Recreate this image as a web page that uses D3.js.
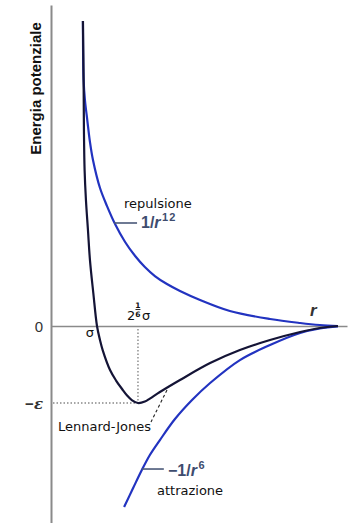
<!DOCTYPE html>
<html><head><meta charset="utf-8">
<script src="https://cdn.jsdelivr.net/npm/d3@7"></script>
<style>body{margin:0;background:#fff}svg{display:block}</style>
</head><body>
<svg id="c" width="360" height="523"></svg>
<script>
// r in units of sigma, E in units of epsilon
const ljR = [0.958,0.960,0.961,0.963,0.967,0.973,0.979,0.989,1.000,1.009,1.017,1.039,1.057,1.075,1.090,1.105,1.1225,1.143,1.158,1.188,1.248,1.338,1.427,1.517,1.607,1.666,1.720];
const ljE = [3.961,3.195,2.545,2.026,1.636,1.247,0.857,0.429,0,-0.182,-0.312,-0.571,-0.708,-0.818,-0.903,-0.965,-1.0,-0.981,-0.942,-0.857,-0.701,-0.481,-0.312,-0.182,-0.078,-0.026,0];
const repR = [0.958,0.960,0.964,0.971,0.979,0.988,1.009,1.030,1.054,1.084,1.114,1.143,1.173,1.209,1.248,1.308,1.397,1.517,1.607,1.666,1.720];
const repE = [3.961,3.195,2.935,2.675,2.390,2.156,1.792,1.558,1.325,1.091,0.909,0.766,0.649,0.545,0.455,0.338,0.195,0.091,0.039,0.013,0];
const attR = [1.081,1.108,1.134,1.158,1.188,1.233,1.284,1.338,1.427,1.517,1.607,1.666,1.720];
const attE = [-2.351,-2.104,-1.870,-1.675,-1.481,-1.208,-0.961,-0.740,-0.442,-0.247,-0.091,-0.032,-0.006];
const rDomain = [0.8626, 1.747];
const eDomain = [-2.558, 4.169];
const yTickValues = [0, -1];
const yTickLabels = ["0", "−ε"];
const rMin = Math.pow(2, 1/6);

const svg = d3.select("#c");
const x = d3.scaleLinear().domain(rDomain).range([51, 347]);
const y = d3.scaleLinear().domain(eDomain).range([523, 5]);

// axes
const yAx = svg.append("g").attr("transform", `translate(${x(rDomain[0])},0)`)
  .call(d3.axisLeft(y).tickValues(yTickValues).tickSize(0).tickPadding(8)
    .tickFormat((d,i) => yTickLabels[i]));
yAx.select(".domain").attr("stroke", "#8a8a8a").attr("stroke-width", 2);
yAx.selectAll("text").attr("font-family", "Liberation Sans, Arial, sans-serif")
  .attr("font-size", 15).attr("fill", "#333").attr("dy", "0.36em");
yAx.selectAll(".tick").filter(d => d === -1).select("text").text(null)
  .call(t => { t.append("tspan").text("−").attr("font-weight","bold");
               t.append("tspan").text("ε").attr("font-family","DejaVu Serif, serif")
                 .attr("font-style","italic").attr("font-weight","bold"); });

const xAx = svg.append("g").attr("transform", `translate(0,${y(0)})`)
  .call(d3.axisBottom(x).tickValues([]).tickSizeOuter(0));
xAx.select(".domain").attr("stroke", "#8a8a8a").attr("stroke-width", 1.6);

// dotted guides
svg.append("path")
  .attr("d", `M${x(rDomain[0])+2},${y(-1)}H${x(rMin)}V${y(0)+2}`)
  .attr("fill","none").attr("stroke","#888").attr("stroke-width",1.4)
  .attr("stroke-dasharray","1.5,2");

// curves
const line = d3.line().x(d => x(d[0])).y(d => y(d[1])).curve(d3.curveCatmullRom.alpha(0.5));
const zip = (a,b) => a.map((v,i) => [v, b[i]]);
svg.append("path").attr("d", line(zip(repR, repE))).attr("fill","none")
  .attr("stroke","#2233c0").attr("stroke-width",2.2);
svg.append("path").attr("d", line(zip(attR, attE))).attr("fill","none")
  .attr("stroke","#2233c0").attr("stroke-width",2.2);
svg.append("path").attr("d", line(zip(ljR, ljE))).attr("fill","none")
  .attr("stroke","#141436").attr("stroke-width",2.2);

// y label
svg.append("text").attr("transform", `translate(41,88.5) rotate(-90)`)
  .attr("text-anchor","middle").attr("font-family","Liberation Sans, Arial, sans-serif")
  .attr("font-weight","bold").attr("font-size",15).attr("fill","#111").text("Energia potenziale");

// x-axis label r
svg.append("text").attr("x", 310).attr("y", 316).attr("font-family","Liberation Sans, Arial, sans-serif")
  .attr("font-style","italic").attr("font-weight","bold").attr("font-size",17).attr("fill","#333").text("r");

// sigma
const lab = "DejaVu Sans, sans-serif";
svg.append("text").attr("x", x(1)-7).attr("y", y(0)+11).attr("text-anchor","middle")
  .attr("font-family", lab).attr("font-size",13).attr("fill","#111").text("σ");
// 2^(1/6) sigma
const g2 = svg.append("g").attr("font-family", lab).attr("fill","#111");
g2.append("text").attr("x", x(rMin)-11).attr("y", y(0)-6).attr("font-size",13).text("2");
g2.append("text").attr("x", x(rMin)).attr("y", y(0)-18).attr("text-anchor","middle").attr("font-size",7.5).attr("font-weight","bold").text("1");
g2.append("line").attr("x1", x(rMin)-2.5).attr("x2", x(rMin)+2.5).attr("y1", y(0)-16.5).attr("y2", y(0)-16.5).attr("stroke","#111").attr("stroke-width",0.9);
g2.append("text").attr("x", x(rMin)).attr("y", y(0)-9.5).attr("text-anchor","middle").attr("font-size",7.5).attr("font-weight","bold").text("6");
g2.append("text").attr("x", x(rMin)+4).attr("y", y(0)-6).attr("font-size",13).text("σ");

// repulsion label
svg.append("line").attr("x1", x(1.054)-1).attr("x2", x(1.054)+22).attr("y1", y(1.325)-1).attr("y2", y(1.325)-1)
  .attr("stroke","#4a5878").attr("stroke-width",1.6);
svg.append("text").attr("x", 124).attr("y", 208).attr("font-family", lab).attr("font-size",13).attr("fill","#111").text("repulsione");
const t1 = svg.append("text").attr("x", 141).attr("y", 228).attr("font-family","Liberation Sans, Arial, sans-serif")
  .attr("font-weight","bold").attr("font-size",16).attr("fill","#3e4c6e");
t1.append("tspan").text("1/");
t1.append("tspan").attr("font-style","italic").text("r");
t1.append("tspan").attr("font-size",11).attr("dy",-7).attr("dx",1.5).attr("letter-spacing",1).text("12");

// attraction label
svg.append("line").attr("x1", x(1.134)).attr("x2", x(1.134)+22).attr("y1", y(-1.870)-1).attr("y2", y(-1.870)-1)
  .attr("stroke","#4a5878").attr("stroke-width",1.6);
const t2 = svg.append("text").attr("x", 168).attr("y", 476).attr("font-family","Liberation Sans, Arial, sans-serif")
  .attr("font-weight","bold").attr("font-size",16).attr("fill","#3e4c6e");
t2.append("tspan").text("−1/");
t2.append("tspan").attr("font-style","italic").text("r");
t2.append("tspan").attr("font-size",11).attr("dy",-7).attr("dx",1.5).text("6");
svg.append("text").attr("x", 157).attr("y", 495).attr("font-family", lab).attr("font-size",13).attr("fill","#111").text("attrazione");

// Lennard-Jones label with dashed pointer
svg.append("line").attr("x1", 167).attr("y1", 390).attr("x2", 151).attr("y2", 422)
  .attr("stroke","#222").attr("stroke-width",1.1).attr("stroke-dasharray","3,2.5");
svg.append("text").attr("x", 58).attr("y", 431).attr("font-family", lab).attr("font-size",13).attr("fill","#111").text("Lennard-Jones");
</script>
</body></html>
